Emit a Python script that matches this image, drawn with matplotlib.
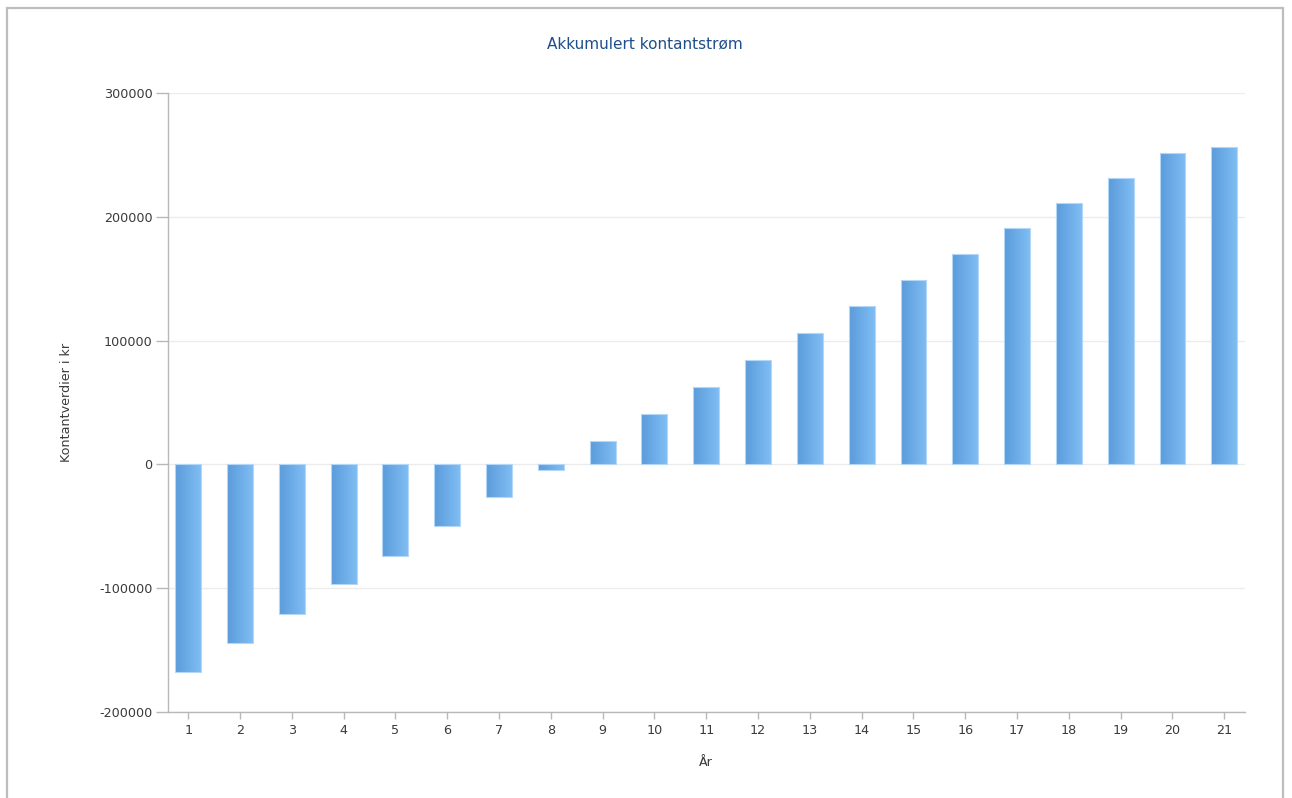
import matplotlib
matplotlib.use("Agg")
import matplotlib.pyplot as plt
import numpy as np
from matplotlib.colors import LinearSegmentedColormap
from matplotlib.patches import Rectangle

# Accumulated cash flow per year (kr)
years = list(range(1, 22))
values = [-168000, -144000, -120500, -97000, -73600, -50100, -26700, -4900,
          18600, 40400, 62200, 84100, 105900, 127700, 148700, 169800,
          190800, 211000, 231200, 251400, 256300]
y_ticks = [-200000, -100000, 0, 100000, 200000, 300000]

title = "Akkumulert kontantstrøm"
x_label = "År"
y_label = "Kontantverdier i kr"

plt.rcParams['font.family'] = ['DejaVu Sans']

fig = plt.figure(figsize=(12.92, 7.98), dpi=100)
fig.patch.set_facecolor("white")
ax = fig.add_axes([168 / 1292, 1 - 712 / 798, (1245 - 168) / 1292, (712 - 93) / 798])

# Outer frame around the chart area
frame = Rectangle((7 / 1292, -0.05), (1283 - 7) / 1292, 1.05 - 8 / 798,
                  transform=fig.transFigure, fill=False,
                  edgecolor="#bdbdbd", linewidth=1.6, zorder=0)
fig.add_artist(frame)

grad_cmap = LinearSegmentedColormap.from_list("bar_grad", ["#5a9bda", "#80bdf4"])
gradient = np.tile(np.linspace(0, 1, 256), (4, 1))

bars = ax.bar(years, values, width=0.5, color="none", edgecolor="#b5d7f7",
              linewidth=0.8, zorder=3)
pad_y = 20000
for bar in bars:
    x0, y0 = bar.get_x(), bar.get_y()
    w, h = bar.get_width(), bar.get_height()
    ylo, yhi = min(y0, y0 + h), max(y0, y0 + h)
    im = ax.imshow(gradient, cmap=grad_cmap, aspect="auto",
                   extent=(x0, x0 + w, ylo - pad_y, yhi + pad_y),
                   interpolation="nearest", zorder=2)
    im.set_clip_path(bar)
ax.set_xlim(0.61, 21.4)
ax.set_ylim(-200000, 300000)

ax.set_yticks(y_ticks)
ax.set_yticklabels([str(v) for v in y_ticks])
ax.set_xticks(years)
ax.set_xticklabels([str(y) for y in years])

ax.yaxis.grid(True, color="#ececec", linewidth=1.0, zorder=0)
ax.set_axisbelow(True)

for side in ("top", "right"):
    ax.spines[side].set_visible(False)
for side in ("left", "bottom"):
    ax.spines[side].set_color("#b8b8b8")
    ax.spines[side].set_linewidth(1.0)

ax.tick_params(axis="y", length=9, width=1.0, color="#b8b8b8",
               labelsize=9.2, labelcolor="#3a3a3a", pad=2)
ax.tick_params(axis="x", length=5, width=1.0, color="#b8b8b8",
               labelsize=9.2, labelcolor="#3a3a3a", pad=4)

fig.text(645 / 1292, 1 - 44 / 798, title, ha="center", va="center",
         fontsize=11, color="#1f4f8a")
fig.text(706 / 1292, 1 - 762 / 798, x_label, ha="center", va="center",
         fontsize=9.2, color="#3a3a3a")
fig.text(67 / 1292, 1 - 402 / 798, y_label, ha="center", va="center",
         rotation=90, fontsize=9.2, color="#3a3a3a")

fig.savefig("out.png", dpi=100, facecolor="white")
